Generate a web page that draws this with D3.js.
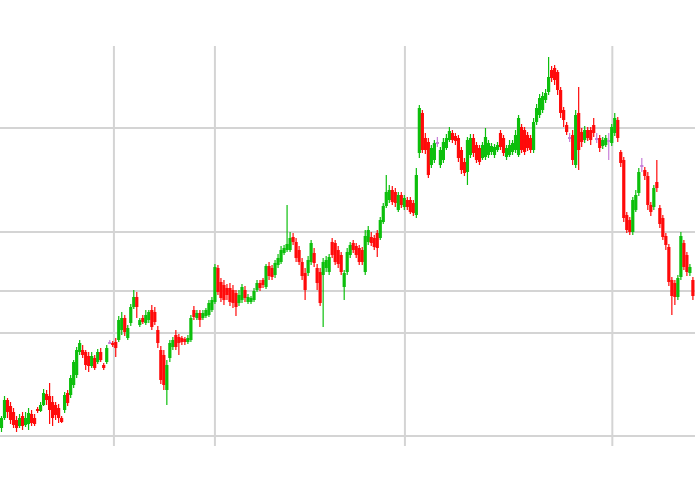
<!DOCTYPE html>
<html>
<head>
<meta charset="utf-8">
<script src="https://cdn.jsdelivr.net/npm/d3@7"></script>
<style>
  body { margin: 0; background: #fff; }
</style>
</head>
<body>
<div id="chart"></div>
<script>
// candle values, one entry per trading day
var openV = [72,82,100,94,88,80,74,84,75,76,86,82,91,89,95,106,104,98,95,92,82,90,107,105,115,125,148,150,148,144,
134,142,138,148,135,138,158,157,158,160,170,182,162,177,193,203,175,182,177,180,190,188,170,150,145,110,142,153,165,163,
162,161,158,160,190,182,187,182,184,185,190,198,232,218,215,212,212,210,207,197,200,210,198,198,200,210,217,220,213,234,
232,225,235,238,247,250,250,263,258,250,238,227,227,238,247,232,228,225,232,228,258,257,250,245,213,228,245,257,254,252,
250,228,258,263,262,267,262,278,294,300,310,308,290,305,293,300,300,297,285,347,387,362,358,335,340,358,335,340,352,360,
367,364,362,350,338,328,345,362,355,352,342,343,345,348,345,350,367,362,343,345,348,350,345,373,370,365,362,350,378,385,
390,400,408,430,432,428,410,390,375,363,365,335,387,368,360,370,370,375,362,362,354,355,360,357,367,380,348,340,285,280,
268,290,307,335,330,324,295,293,318,292,282,264,253,220,217,203,223,257,245,227,220];
var highV = [84,104,102,98,92,84,86,88,88,92,90,86,93,98,111,110,117,104,98,96,84,108,110,125,140,153,160,155,150,148,
148,145,151,152,137,155,160,159,162,184,188,185,175,196,210,208,182,185,190,190,195,193,174,154,150,140,160,163,170,166,
164,163,165,185,194,190,190,190,192,200,203,236,235,222,220,216,217,215,210,210,216,214,206,204,212,220,220,222,236,238,
235,240,246,254,255,295,268,267,262,254,242,232,244,260,252,236,232,242,244,246,262,260,254,248,230,252,258,260,257,255,
253,270,274,268,265,270,283,297,325,315,314,312,308,308,305,303,303,300,332,395,390,367,362,355,360,363,353,362,366,373,
370,367,365,353,342,363,366,366,358,355,358,372,360,357,356,358,370,365,355,360,360,370,385,376,373,368,365,382,396,406,
408,411,443,434,435,430,413,393,378,367,370,390,413,372,374,373,373,382,367,365,363,365,367,376,387,383,350,343,288,283,
303,310,332,342,333,328,298,315,340,295,285,267,256,223,220,225,268,260,248,236,223];
var lowV = [68,80,82,76,72,68,72,70,73,70,74,74,87,88,94,95,76,74,80,77,77,87,94,102,112,122,145,142,130,128,
132,130,136,138,130,136,156,153,143,158,165,164,160,174,191,182,173,176,175,177,170,175,152,116,110,95,138,150,150,145,
155,155,156,158,180,180,173,180,182,183,188,196,205,198,195,200,194,192,184,194,197,198,196,196,198,208,209,212,211,220,
220,222,232,236,245,248,248,255,238,235,220,200,224,235,233,210,194,173,228,225,242,235,232,225,200,225,242,247,242,235,
235,225,255,254,250,243,260,276,292,297,295,293,288,292,290,290,286,284,282,342,347,346,322,332,337,353,332,337,350,358,
357,355,338,326,324,315,342,343,337,335,340,340,342,345,342,348,350,344,340,343,345,347,343,347,345,349,347,347,375,382,
387,397,405,418,415,405,382,373,365,358,335,332,330,353,357,359,355,363,357,348,351,353,340,354,364,358,333,278,267,265,
265,288,304,328,320,290,284,290,308,272,260,250,214,185,195,200,220,230,224,224,200];
var closeV = [82,100,88,80,75,72,82,74,82,87,77,76,89,95,107,100,90,82,85,82,78,105,97,122,138,150,157,145,135,134,
144,132,148,140,132,152,158,155,152,180,182,168,172,193,203,193,180,178,185,188,173,178,157,120,115,135,157,160,153,157,
158,158,162,182,183,187,180,187,190,197,200,233,208,202,200,205,198,197,193,205,213,202,203,202,209,217,212,215,234,224,
223,237,242,250,252,256,262,258,242,238,224,210,240,257,237,217,197,238,240,243,245,238,236,228,227,248,255,250,245,238,
238,264,270,257,253,252,280,294,308,310,298,297,305,295,302,293,288,287,325,392,350,350,325,352,357,358,350,358,362,369,
360,359,342,330,327,360,362,347,340,338,355,363,357,354,353,355,353,347,352,355,357,365,382,350,348,352,350,378,392,402,
404,407,423,422,420,410,387,380,368,363,340,385,350,358,370,362,360,367,362,352,360,362,360,373,382,362,337,282,270,268,
300,305,328,335,324,295,288,312,312,276,263,255,218,204,203,222,264,233,228,233,204];

// horizontal grid values and vertical grid positions (in candle index units)
var priceTicks = [372, 268, 209, 167, 64];
var dayTicks = [37.4, 71.0, 134.2, 203.2];

var W = 695, H = 494;

var candles = openV.map(function(o, i) {
  return { i: i, o: o, h: highV[i], l: lowV[i], c: closeV[i] };
});

var svg = d3.select("#chart").append("svg")
  .attr("width", W)
  .attr("height", H);

var x = d3.scaleLinear()
  .domain([0, candles.length - 1])
  .range([1.5, 692.9]);

var y = d3.scaleLinear()
  .domain([54, 454])
  .range([446, 46]);

// grid
svg.append("g")
  .selectAll("line")
  .data(priceTicks)
  .enter()
  .append("line")
  .attr("x1", 0)
  .attr("x2", W)
  .attr("y1", function(d) { return y(d); })
  .attr("y2", function(d) { return y(d); })
  .attr("stroke", "#d4d4d4")
  .attr("stroke-width", 2);

svg.append("g")
  .selectAll("line")
  .data(dayTicks)
  .enter()
  .append("line")
  .attr("x1", function(d) { return x(d); })
  .attr("x2", function(d) { return x(d); })
  .attr("y1", y(454))
  .attr("y2", y(54))
  .attr("stroke", "#d4d4d4")
  .attr("stroke-width", 2);

function colour(d) {
  if (d.c > d.o) return "#0cbf0c";
  if (d.c < d.o) return "#ff0a0a";
  return "#c77fd8";
}

var g = svg.append("g");

// wicks
g.selectAll("line.wick")
  .data(candles)
  .enter()
  .append("line")
  .attr("class", "wick")
  .attr("x1", function(d) { return x(d.i); })
  .attr("x2", function(d) { return x(d.i); })
  .attr("y1", function(d) { return y(d.h); })
  .attr("y2", function(d) { return y(d.l); })
  .attr("stroke", colour)
  .attr("stroke-width", 1.2);

// bodies
var bw = 3.2;
g.selectAll("rect.body")
  .data(candles)
  .enter()
  .append("rect")
  .attr("class", "body")
  .attr("x", function(d) { return x(d.i) - bw / 2; })
  .attr("y", function(d) { return y(Math.max(d.o, d.c)); })
  .attr("width", bw)
  .attr("height", function(d) { return Math.max(2, Math.abs(y(d.o) - y(d.c))); })
  .attr("fill", colour);
</script>
</body>
</html>
